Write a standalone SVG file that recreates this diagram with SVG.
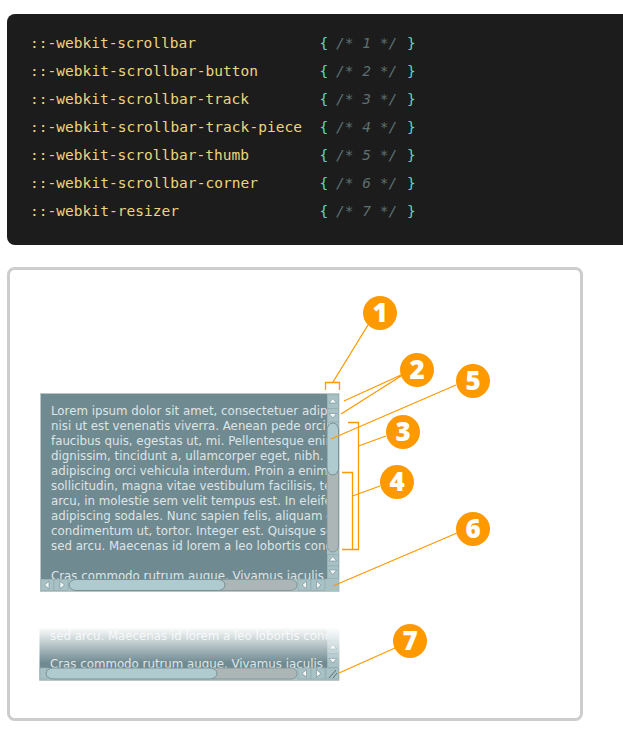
<svg xmlns="http://www.w3.org/2000/svg" width="623" height="738" viewBox="0 0 623 738">
<style>
.code{font-family:"DejaVu Sans Mono","Liberation Mono",monospace;font-size:14.5px;white-space:pre}
.sel{fill:#ecd67c}.br{fill:#58d8c6}.cm{fill:#5d7071;font-style:italic}
.lorem{font-family:"DejaVu Sans",Verdana,sans-serif;font-size:11.8px;fill:#dfe5e6}
.num{font-family:"Open Sans","Liberation Sans",sans-serif;font-weight:800;font-size:26px;fill:#fff;text-anchor:middle}
.dot{fill:#ff9900}
.ln{fill:none;stroke:#ff9900;stroke-width:1.3}
.btn{fill:#a8c1c5;stroke:#92abaf;stroke-width:.7}
.tri{fill:#f6f8f8;stroke:#6f8a91;stroke-width:.6}
.trk{fill:#adb6b7;stroke:#7f9093;stroke-width:.8}
.thm{fill:#b0cbcf;stroke:#6f8a91;stroke-width:.9}
</style>
<defs>
<clipPath id="c1"><rect x="41" y="394" width="286" height="185"/></clipPath>
<clipPath id="c2"><rect x="40" y="629" width="287" height="39"/></clipPath>
<linearGradient id="fade" x1="0" y1="0" x2="0" y2="1"><stop offset="0" stop-color="#fff"/><stop offset="1" stop-color="#fff" stop-opacity="0"/></linearGradient>
</defs>
<g id="code-panel">
<path d="M623 14H15a8 8 0 0 0-8 8V237a8 8 0 0 0 8 8H623Z" fill="#1c1c1c"/>
<g class="code">
<text x="30" y="48" class="sel" textLength="166">::-webkit-scrollbar</text>
<text x="30" y="76" class="sel" textLength="228">::-webkit-scrollbar-button</text>
<text x="30" y="104" class="sel" textLength="219">::-webkit-scrollbar-track</text>
<text x="30" y="132" class="sel" textLength="272">::-webkit-scrollbar-track-piece</text>
<text x="30" y="160" class="sel" textLength="219">::-webkit-scrollbar-thumb</text>
<text x="30" y="188" class="sel" textLength="228">::-webkit-scrollbar-corner</text>
<text x="30" y="216" class="sel" textLength="149">::-webkit-resizer</text>
<text x="319.500" y="48"><tspan class="br">{</tspan><tspan class="cm" x="336">/* 1 */</tspan><tspan class="br" x="407">}</tspan></text>
<text x="319.500" y="76"><tspan class="br">{</tspan><tspan class="cm" x="336">/* 2 */</tspan><tspan class="br" x="407">}</tspan></text>
<text x="319.500" y="104"><tspan class="br">{</tspan><tspan class="cm" x="336">/* 3 */</tspan><tspan class="br" x="407">}</tspan></text>
<text x="319.500" y="132"><tspan class="br">{</tspan><tspan class="cm" x="336">/* 4 */</tspan><tspan class="br" x="407">}</tspan></text>
<text x="319.500" y="160"><tspan class="br">{</tspan><tspan class="cm" x="336">/* 5 */</tspan><tspan class="br" x="407">}</tspan></text>
<text x="319.500" y="188"><tspan class="br">{</tspan><tspan class="cm" x="336">/* 6 */</tspan><tspan class="br" x="407">}</tspan></text>
<text x="319.500" y="216"><tspan class="br">{</tspan><tspan class="cm" x="336">/* 7 */</tspan><tspan class="br" x="407">}</tspan></text>
</g>
</g>
<rect id="frame" x="8.500" y="268.500" width="573" height="451" rx="6" fill="#fff" stroke="#cdcdcd" stroke-width="3"/>
<g id="scrollbox-1">
<rect x="40.500" y="393.500" width="298.500" height="198" fill="#6f8a91" stroke="#bcc6c7"/>
<g clip-path="url(#c1)" class="lorem">
<text x="51" y="415">Lorem ipsum dolor sit amet, consectetuer adipiscing</text>
<text x="51" y="430">nisi ut est venenatis viverra. Aenean pede orci, mollis</text>
<text x="51" y="445">faucibus quis, egestas ut, mi. Pellentesque enim</text>
<text x="51" y="460">dignissim, tincidunt a, ullamcorper eget, nibh. Sed</text>
<text x="51" y="475">adipiscing orci vehicula interdum. Proin a enim ut</text>
<text x="51" y="490">sollicitudin, magna vitae vestibulum facilisis, tellus</text>
<text x="51" y="505">arcu, in molestie sem velit tempus est. In eleifend</text>
<text x="51" y="520">adipiscing sodales. Nunc sapien felis, aliquam et</text>
<text x="51" y="535">condimentum ut, tortor. Integer est. Quisque sed</text>
<text x="51" y="550">sed arcu. Maecenas id lorem a leo lobortis conde</text>
<text x="51" y="580">Cras commodo rutrum augue. Vivamus iaculis</text>
</g>
<rect x="327" y="394" width="11.500" height="197" fill="#a8c1c5"/>
<rect class="btn" x="327.500" y="395" width="11" height="13.500"/><path class="tri" d="M332.800 398.500l-3.800 4.500h7.600z"/>
<rect class="btn" x="327.500" y="408.500" width="11" height="13.500"/><path class="tri" d="M329 413.500h7.600l-3.800 4.500z"/>
<path class="trk" d="M327 470V545a5.800 7 0 0 0 11.600 0V470Z"/>
<path class="thm" d="M327 430a5.800 7 0 0 1 11.600 0V468a5.800 7 0 0 1-11.600 0Z"/>
<rect class="btn" x="327.500" y="554.500" width="11" height="11.500"/><path class="tri" d="M332.800 556.500l-3.800 4.500h7.600z"/>
<rect class="btn" x="327.500" y="566" width="11" height="12.500"/><path class="tri" d="M329 570h7.600l-3.800 4.500z"/>
<rect x="41" y="579" width="297.500" height="12" fill="#a8c1c5"/>
<path class="trk" d="M220 579.500H291a6 5.500 0 0 1 0 11H220Z"/>
<rect class="btn" x="41" y="579.500" width="13" height="11"/><path class="tri" d="M44.500 585l4.500-3.800v7.600z"/>
<rect class="btn" x="54" y="579.500" width="14" height="11"/><path class="tri" d="M64.500 585l-4.500-3.800v7.600z"/>
<path class="thm" d="M76 579.500H218a7 5.500 0 0 1 0 11H76a7 5.500 0 0 1 0-11Z"/>
<rect class="btn" x="298" y="579.500" width="13" height="11"/><path class="tri" d="M302 585l4.500-3.800v7.600z"/>
<rect class="btn" x="311" y="579.500" width="14" height="11"/><path class="tri" d="M321 585l-4.500-3.800v7.600z"/>
</g>
<g id="scrollbox-2">
<rect x="39.500" y="628" width="299" height="52" fill="#6f8a91"/>
<g clip-path="url(#c2)" class="lorem">
<text x="50" y="640">sed arcu. Maecenas id lorem a leo lobortis conde</text>
<text x="50" y="668">Cras commodo rutrum augue. Vivamus iaculis</text>
</g>
<rect x="327" y="628" width="11.500" height="40" fill="#a8c1c5"/>
<rect class="btn" x="327.500" y="641" width="11" height="13"/><path class="tri" d="M332.800 644.500l-3.800 4.500h7.600z"/>
<rect class="btn" x="327.500" y="654" width="11" height="13.500"/><path class="tri" d="M329 658.500h7.600l-3.800 4.500z"/>
<path d="M339 628V680.500H39.500V668" fill="none" stroke="#bcc6c7"/>
<rect x="38" y="627" width="303" height="36" fill="url(#fade)"/>
<rect x="40" y="668" width="298" height="12" fill="#a8c1c5"/>
<path class="trk" d="M212 668H291a6 5.500 0 0 1 0 11H212Z"/>
<rect class="btn" x="40" y="668" width="7" height="11"/>
<path class="thm" d="M53 668H210a7 5.500 0 0 1 0 11H53a7 5.500 0 0 1 0-11Z"/>
<rect class="btn" x="298" y="668" width="13" height="11"/><path class="tri" d="M302 673.500l4.500-3.800v7.600z"/>
<rect class="btn" x="311" y="668" width="14" height="11"/><path class="tri" d="M321 673.500l-4.500-3.800v7.600z"/>
<rect class="btn" x="326" y="668" width="12.500" height="11"/>
<path d="M329 678l7-8M333 678l4-5" stroke="#5a6e72" fill="none"/>
</g>
<g id="connectors">
<path class="ln" d="M368 325L333 382M325.500 390V382.500H339.500V390"/>
<path class="ln" d="M401 375L344 401M401 376L341 414"/>
<path class="ln" d="M456 385L331 439"/>
<path class="ln" d="M386 436L358.500 446M348 422.500H358.500V549.500H342"/>
<path class="ln" d="M380 486L352.500 496M342 472.500H352.500V549.500"/>
<path class="ln" d="M457 533L333 586"/>
<path class="ln" d="M395 648L339 673"/>
</g>
<g id="n1"><circle class="dot" cx="380" cy="313" r="17"/><text class="num" x="380" y="322">1</text></g>
<g id="n2"><circle class="dot" cx="417" cy="370" r="17"/><text class="num" x="417" y="379">2</text></g>
<g id="n5"><circle class="dot" cx="473" cy="381" r="17"/><text class="num" x="473" y="390">5</text></g>
<g id="n3"><circle class="dot" cx="403" cy="432" r="17"/><text class="num" x="403" y="441">3</text></g>
<g id="n4"><circle class="dot" cx="397" cy="482" r="17"/><text class="num" x="397" y="491">4</text></g>
<g id="n6"><circle class="dot" cx="473" cy="529" r="17"/><text class="num" x="473" y="538">6</text></g>
<g id="n7"><circle class="dot" cx="410" cy="641" r="17"/><text class="num" x="410" y="650">7</text></g>
</svg>
